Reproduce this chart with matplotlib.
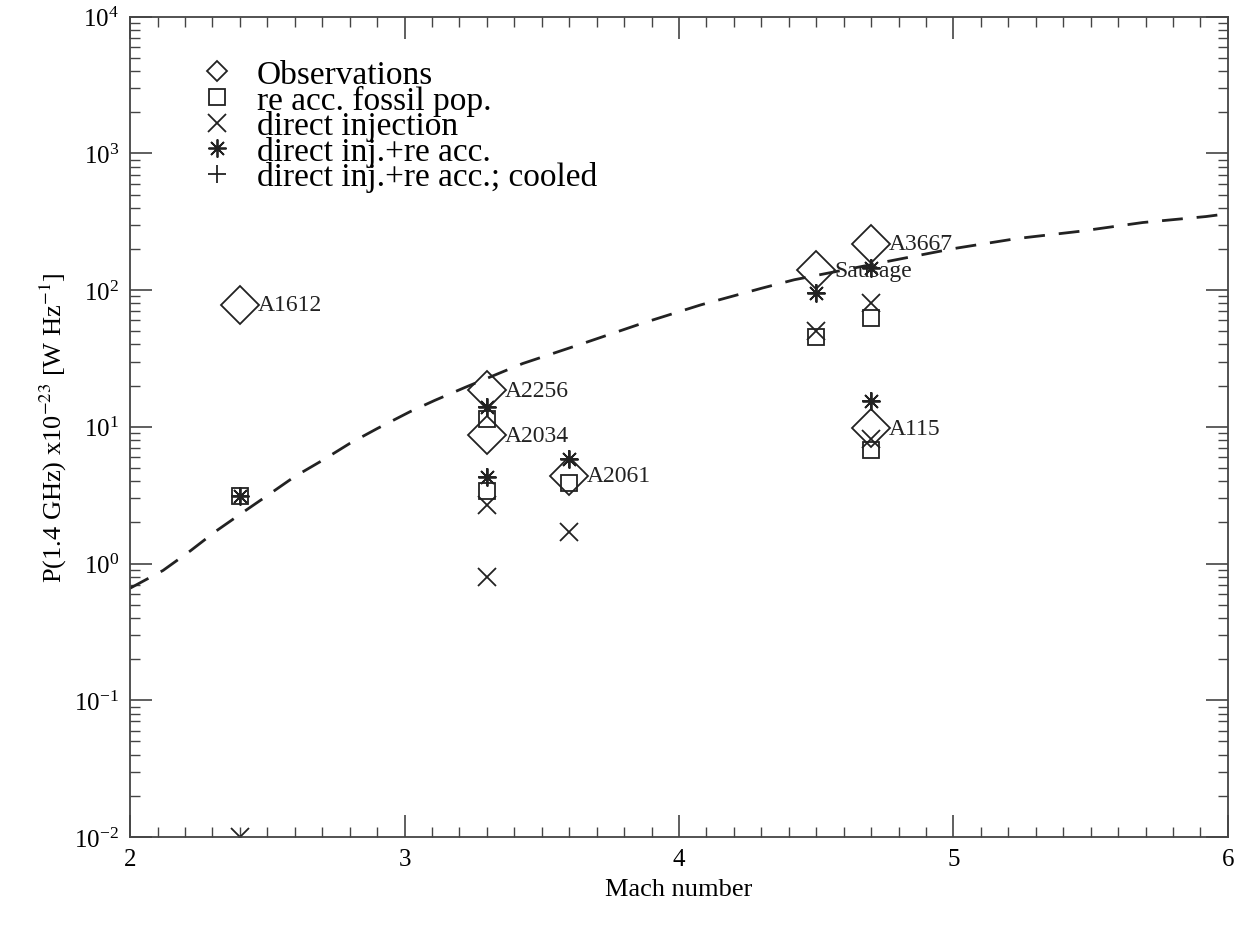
import matplotlib
matplotlib.use('Agg')
from matplotlib import pyplot as plt
from matplotlib.lines import Line2D
from matplotlib.ticker import MultipleLocator, LogLocator, NullFormatter

plt.rcParams['font.family'] = ['Liberation Serif', 'DejaVu Serif']
plt.rcParams['mathtext.fontset'] = 'stix'

# %% data
names = ['A1612', 'A2256', 'A2034', 'A2061', 'Sausage', 'A3667', 'A115']
mach = [2.4, 3.3, 3.3, 3.6, 4.5, 4.7, 4.7]
p_obs = [78, 18.5, 8.7, 4.4, 140, 218, 9.8]
p_reacc = [3.1, 11.5, 3.4, 3.9, 45, 62, 6.8]
p_direct = [0.01, 0.8, 2.7, 1.7, 50, 80, 8.2]
p_both = [3.1, 14, 4.3, 5.8, 95, 145, 15.5]
p_cooled = [3.1, 14, 4.3, 5.8, 95, 145, 15.5]

# dashed model curve
curve_m = [2.0, 2.12, 2.22, 2.31, 2.41, 2.5, 2.6, 2.7, 2.8, 2.9, 3.02, 3.11,
           3.22, 3.43, 3.65, 3.87, 4.08, 4.3, 4.42, 4.78, 5.0, 5.23, 5.46,
           5.69, 5.92, 6.0]
curve_p = [0.66, 0.89, 1.24, 1.71, 2.36, 3.14, 4.33, 5.67, 7.55, 9.7, 12.9,
           15.6, 19.4, 29, 40.7, 57.5, 78, 103, 119, 165, 201, 238, 269, 312,
           345, 362]

# %% plot
fig = plt.figure(figsize=(12.39, 9.28), dpi=100)
ax = fig.add_axes([0.105, 0.097, 0.886, 0.884])

ax.plot(curve_m, curve_p, ls=(0, (7.5, 5)), color='#222222', lw=2.0)

mk = dict(ls='none', color='#222222', mfc='none', mew=1.3)
ax.plot(mach, p_reacc, marker='s', ms=12, **mk)
ax.plot(mach, p_direct, marker='x', ms=13, **mk)
ax.plot(mach, p_both, marker=(8, 2, 0), ms=13, **mk)
ax.plot(mach, p_cooled, marker='+', ms=13, **mk)
ax.plot(mach, p_obs, marker='D', ms=19, **mk)

for m, p, n in zip(mach, p_obs, names):
    ax.annotate(n, (m, p), xytext=(13, 0), textcoords='offset points',
                ha='left', va='center', fontsize=17, color='#222222')

ax.set_xlim(2, 6)
ax.set_ylim(1e-2, 1e4)
ax.set_yscale('log')
ax.xaxis.set_major_locator(MultipleLocator(1))
ax.xaxis.set_minor_locator(MultipleLocator(0.1))
ax.yaxis.set_major_locator(LogLocator(base=10, numticks=10))
ax.yaxis.set_minor_locator(LogLocator(base=10, subs=range(2, 10), numticks=20))
ax.yaxis.set_minor_formatter(NullFormatter())
ax.tick_params(which='both', direction='in', top=True, right=True,
               color='#444444', labelsize=18, pad=8)
ax.tick_params(which='major', length=16, width=1.2)
ax.tick_params(which='minor', length=7, width=1.0)
for s in ax.spines.values():
    s.set_linewidth(1.3)
    s.set_color('#444444')

ax.set_xlabel('Mach number', fontsize=19, labelpad=6)
ax.set_ylabel(r'P(1.4 GHz) x10$^{-23}$ [W Hz$^{-1}$]', fontsize=19, labelpad=4)

handles = [
    Line2D([], [], marker='D', ms=10, **mk),
    Line2D([], [], marker='s', ms=12, **mk),
    Line2D([], [], marker='x', ms=13, **mk),
    Line2D([], [], marker=(8, 2, 0), ms=13, **mk),
    Line2D([], [], marker='+', ms=13, **mk),
]
labels = ['Observations', 're acc. fossil pop.', 'direct injection',
          'direct inj.+re acc.', 'direct inj.+re acc.; cooled']
ax.legend(handles, labels, loc='upper left', bbox_to_anchor=(0.043, 0.976),
          frameon=False, fontsize=24, handlelength=1.0, handletextpad=0.68,
          labelspacing=-0.165, borderpad=0.2)

plt.savefig('out.png', dpi=100)
